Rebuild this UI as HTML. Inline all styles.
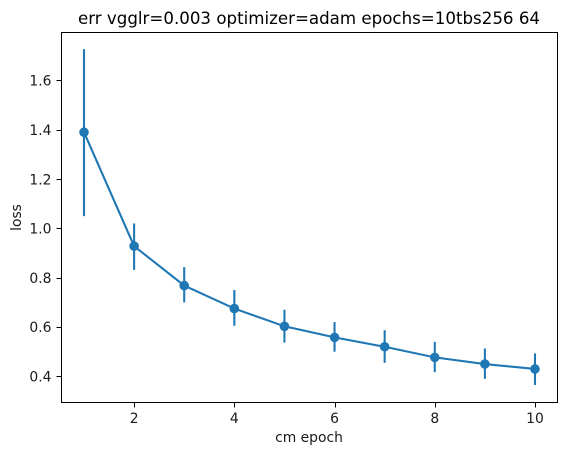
<!DOCTYPE html>
<html>
<head>
<meta charset="utf-8">
<style>
html,body{margin:0;padding:0;background:#fff;}
svg{display:block;}
text{font-family:"DejaVu Sans","Liberation Sans",sans-serif;fill:#1a1a1a;}
</style>
</head>
<body>
<svg id="chart" xmlns="http://www.w3.org/2000/svg" width="567" height="455" viewBox="0 0 567 455">
<rect x="0" y="0" width="567" height="455" fill="#fff"/>
<text x="309" y="24" font-size="16.67" text-anchor="middle" style="fill:#000">err vgglr=0.003 optimizer=adam epochs=10tbs256 64</text>
<text x="309" y="442" font-size="13.89" text-anchor="middle">cm epoch</text>
<text transform="translate(21,217.5) rotate(-90)" font-size="13.89" text-anchor="middle">loss</text>
<g id="ticks"></g>
<g id="marks"></g>
<rect x="61.5" y="32.5" width="496" height="370" fill="none" stroke="#000" stroke-width="1"/>
</svg>
<script>
const epochs = [1, 2, 3, 4, 5, 6, 7, 8, 9, 10];
const lossMean = [1.39, 0.928, 0.768, 0.675, 0.603, 0.558, 0.52, 0.477, 0.45, 0.43];
const lossLow = [1.05, 0.832, 0.70, 0.605, 0.537, 0.50, 0.455, 0.417, 0.39, 0.365];
const lossHigh = [1.727, 1.02, 0.843, 0.75, 0.67, 0.62, 0.587, 0.54, 0.513, 0.493];
const xTickValues = [2, 4, 6, 8, 10];
const yTickValues = [0.4, 0.6, 0.8, 1.0, 1.2, 1.4, 1.6];

const NS = 'http://www.w3.org/2000/svg';
const COLOR = '#1f77b4';
function xScale(v) { return 84 + (v - 1) * 50.11; }
function yScale(v) { return 228.4 - (v - 1) * 246.6; }
function make(tag, parent) {
  const el = document.createElementNS(NS, tag);
  parent.appendChild(el);
  return el;
}
const ticks = document.getElementById('ticks');
const marks = document.getElementById('marks');

xTickValues.forEach(function (v) {
  const x = Math.round(xScale(v)) + 0.5;
  const t = make('line', ticks);
  
  
  t.setAttribute('x1', x); t.setAttribute('x2', x);
  t.setAttribute('y1', 402.5); t.setAttribute('y2', 407.5);
  t.setAttribute('stroke', '#000');
  const l = make('text', ticks);
  
  
  l.setAttribute('x', xScale(v)); l.setAttribute('y', 423);
  l.setAttribute('font-size', '13.89');
  l.setAttribute('text-anchor', 'middle');
  l.textContent = String(v);
});

yTickValues.forEach(function (v) {
  const y = Math.round(yScale(v)) + 0.5;
  const t = make('line', ticks);
  
  
  t.setAttribute('x1', 56.5); t.setAttribute('x2', 61.5);
  t.setAttribute('y1', y); t.setAttribute('y2', y);
  t.setAttribute('stroke', '#000');
  const l = make('text', ticks);
  
  
  l.setAttribute('x', 51.5); l.setAttribute('y', yScale(v) + 5.2);
  l.setAttribute('font-size', '13.89');
  l.setAttribute('text-anchor', 'end');
  l.textContent = v.toFixed(1);
});

epochs.forEach(function (e, i) {
  const bar = make('line', marks);
  
  
  bar.setAttribute('x1', xScale(e)); bar.setAttribute('x2', xScale(e));
  bar.setAttribute('y1', yScale(lossLow[i])); bar.setAttribute('y2', yScale(lossHigh[i]));
  bar.setAttribute('stroke', COLOR);
  bar.setAttribute('stroke-width', '2.08');
});

const path = make('polyline', marks);


path.setAttribute('points', epochs.map(function (e, i) { return xScale(e) + ',' + yScale(lossMean[i]); }).join(' '));
path.setAttribute('fill', 'none');
path.setAttribute('stroke', COLOR);
path.setAttribute('stroke-width', '2.08');

epochs.forEach(function (e, i) {
  const dot = make('circle', marks);
  
  
  dot.setAttribute('cx', xScale(e));
  dot.setAttribute('cy', yScale(lossMean[i]));
  dot.setAttribute('r', '4.8');
  dot.setAttribute('fill', COLOR);
});
</script>
</body>
</html>
